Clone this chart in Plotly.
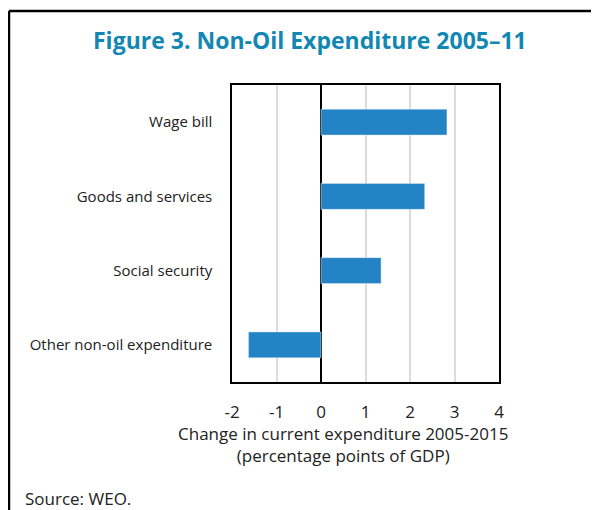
import plotly.graph_objects as go

categories = ["Wage bill", "Goods and services", "Social security", "Other non-oil expenditure"]
values = [2.83, 2.33, 1.35, -1.63]
x_ticks = [-2, -1, 0, 1, 2, 3, 4]

# the page body adds an 8px margin, so the figure is drawn 8px smaller
OFF = 8
W, H = 599 - OFF, 510 - OFF
L, R, T, B = 232 - OFF, 100, 85 - OFF, 128
pw, ph = W - L - R, H - T - B


def px(x):
    # page pixel -> paper x
    return (x - OFF - L) / pw


def py(y):
    # page pixel -> paper y
    return (H - B - (y - OFF)) / ph


font = "Open Sans, Noto Sans, sans-serif"

fig = go.Figure()
fig.add_trace(go.Bar(
    y=categories,
    x=values,
    orientation="h",
    marker_color="#2383c4",
    width=0.35,
))

fig.update_layout(
    width=W,
    height=H,
    margin=dict(l=L, r=R, t=T, b=B),
    plot_bgcolor="white",
    paper_bgcolor="white",
    showlegend=False,
    font=dict(family=font, size=15, color="#222"),
    xaxis=dict(
        range=[-2, 4],
        tickvals=x_ticks,
        ticktext=[str(v) for v in x_ticks],
        showgrid=True,
        gridcolor="#dcdcdc",
        gridwidth=1.5,
        zeroline=True,
        zerolinecolor="black",
        zerolinewidth=1.5,
        showline=True,
        linecolor="black",
        linewidth=1.5,
        mirror=True,
        ticks="",
        ticklabelstandoff=14,
        tickfont=dict(size=17),
    ),
    yaxis=dict(
        categoryorder="array",
        categoryarray=categories[::-1],
        showgrid=False,
        showline=True,
        linecolor="black",
        linewidth=1.5,
        mirror=True,
        ticks="",
        ticklabelstandoff=15,
    ),
    shapes=[
        dict(type="line", xref="paper", yref="paper", x0=px(9), x1=px(610), y0=py(11), y1=py(11),
             line=dict(color="black", width=2.5)),
        dict(type="line", xref="paper", yref="paper", x0=px(9), x1=px(9), y0=py(11), y1=py(520),
             line=dict(color="black", width=2.5)),
    ],
    annotations=[
        dict(text="<b>Figure 3. Non-Oil Expenditure 2005–11</b>", xref="paper", yref="paper",
             x=px(310), y=py(40), xanchor="center", yanchor="middle", showarrow=False,
             font=dict(size=23, color="#1287b3")),
        dict(text="Change in current expenditure 2005-2015<br>(percentage points of GDP)",
             xref="paper", yref="paper", x=px(343), y=py(420), xanchor="center", yanchor="top",
             showarrow=False, font=dict(size=17)),
        dict(text="Source: WEO.", xref="paper", yref="paper", x=px(23), y=py(498),
             xanchor="left", yanchor="middle", showarrow=False, font=dict(size=17)),
    ],
)

fig.write_html("out.html")
